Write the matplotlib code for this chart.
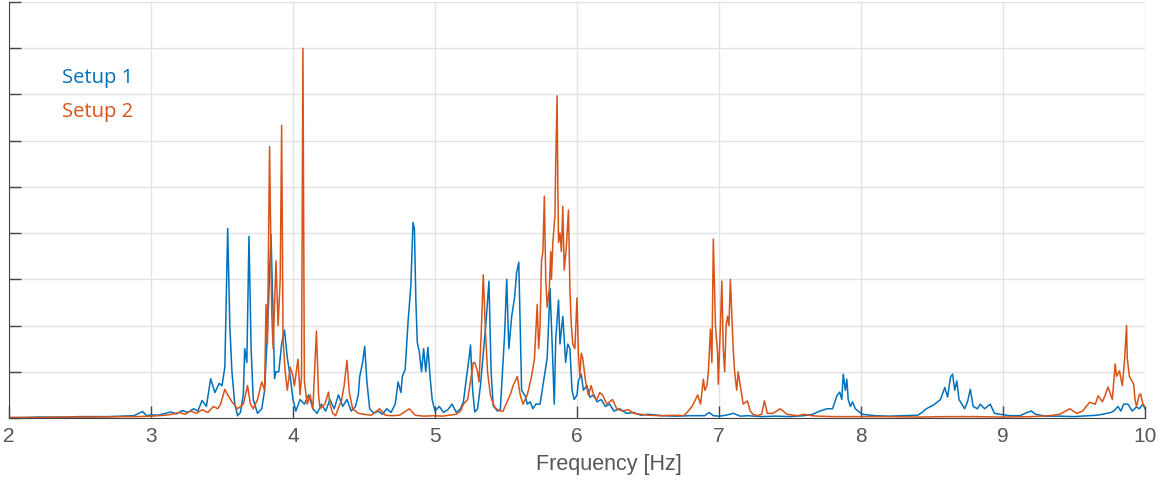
import matplotlib
matplotlib.use("Agg")
import matplotlib.pyplot as plt

# Setup 1 spectrum, amplitude in grid units
setup1_freq = [
    2.00, 2.10, 2.20, 2.30, 2.40, 2.50, 2.60, 2.70, 2.80, 2.88, 2.94, 2.97,
    3.00, 3.05, 3.10, 3.14, 3.18, 3.22, 3.26, 3.30, 3.33, 3.36, 3.39, 3.42,
    3.45, 3.48, 3.50, 3.52, 3.54, 3.555, 3.57, 3.59, 3.61, 3.63, 3.65, 3.66,
    3.675, 3.69, 3.705, 3.72, 3.75, 3.78, 3.80, 3.82, 3.845, 3.86, 3.87, 3.88,
    3.90, 3.92, 3.94, 3.96, 3.98, 4.00, 4.02, 4.05, 4.08, 4.11, 4.14, 4.17,
    4.20, 4.23, 4.26, 4.29, 4.32, 4.35, 4.38, 4.41, 4.44, 4.46, 4.47, 4.49,
    4.505, 4.52, 4.54, 4.57, 4.60, 4.63, 4.66, 4.69, 4.72, 4.74, 4.76, 4.77,
    4.79, 4.81, 4.83, 4.845, 4.855, 4.865, 4.875, 4.89, 4.905, 4.92, 4.935, 4.95,
    4.965, 4.98, 5.00, 5.03, 5.06, 5.09, 5.12, 5.15, 5.18, 5.20, 5.22, 5.24,
    5.25, 5.265, 5.28, 5.30, 5.32, 5.34, 5.36, 5.38, 5.395, 5.41, 5.44, 5.46,
    5.48, 5.49, 5.505, 5.52, 5.54, 5.56, 5.575, 5.59, 5.60, 5.61, 5.635, 5.65,
    5.67, 5.69, 5.71, 5.74, 5.77, 5.79, 5.81, 5.825, 5.84, 5.85, 5.87, 5.88,
    5.90, 5.92, 5.935, 5.95, 5.965, 5.98, 6.00, 6.01, 6.03, 6.045, 6.07, 6.09,
    6.12, 6.14, 6.17, 6.20, 6.23, 6.26, 6.30, 6.35, 6.40, 6.45, 6.50, 6.60,
    6.70, 6.80, 6.90, 6.93, 6.96, 7.00, 7.05, 7.10, 7.15, 7.20, 7.30, 7.40,
    7.50, 7.60, 7.66, 7.71, 7.76, 7.80, 7.83, 7.85, 7.865, 7.875, 7.89, 7.90,
    7.91, 7.925, 7.94, 7.96, 7.98, 8.01, 8.10, 8.20, 8.30, 8.40, 8.43, 8.46,
    8.51, 8.56, 8.59, 8.61, 8.63, 8.645, 8.66, 8.675, 8.69, 8.71, 8.73, 8.75,
    8.77, 8.79, 8.82, 8.84, 8.87, 8.91, 8.94, 8.98, 9.05, 9.12, 9.17, 9.20,
    9.23, 9.30, 9.40, 9.50, 9.60, 9.66, 9.70, 9.73, 9.76, 9.78, 9.81, 9.83,
    9.85, 9.88, 9.91, 9.94, 9.96, 9.985, 10.00,
]
setup1_amp = [
    0.01, 0.01, 0.02, 0.02, 0.02, 0.03, 0.03, 0.03, 0.04, 0.05, 0.14, 0.05,
    0.07, 0.06, 0.10, 0.13, 0.09, 0.16, 0.12, 0.20, 0.15, 0.38, 0.25, 0.85,
    0.55, 0.75, 0.70, 1.10, 4.10, 2.00, 1.00, 0.30, 0.05, 0.12, 0.50, 1.50,
    1.20, 3.93, 1.50, 0.40, 0.10, 0.20, 0.60, 1.85, 3.97, 2.20, 0.85, 1.00,
    1.00, 1.60, 1.90, 1.30, 0.90, 0.40, 0.15, 0.40, 0.30, 0.50, 0.20, 0.10,
    0.30, 0.15, 0.40, 0.20, 0.50, 0.25, 0.40, 0.15, 0.25, 0.50, 0.90, 1.20,
    1.55, 0.80, 0.20, 0.10, 0.15, 0.08, 0.20, 0.12, 0.30, 0.78, 0.55, 0.90,
    1.05, 2.07, 2.86, 4.23, 4.10, 2.57, 1.64, 1.42, 1.00, 1.50, 1.00, 1.53,
    0.90, 0.40, 0.15, 0.25, 0.12, 0.18, 0.30, 0.12, 0.20, 0.35, 0.84, 1.30,
    1.58, 0.60, 0.13, 0.20, 0.70, 1.40, 2.10, 2.96, 1.00, 0.27, 0.15, 0.18,
    1.27, 1.80, 3.00, 1.50, 2.20, 2.60, 3.15, 3.37, 2.00, 0.60, 0.48, 0.30,
    0.35, 0.20, 0.30, 0.30, 0.90, 1.30, 2.80, 1.60, 0.30, 1.70, 2.55, 1.60,
    2.20, 1.20, 1.60, 1.50, 0.60, 0.40, 0.50, 0.80, 0.95, 0.60, 0.70, 0.45,
    0.50, 0.35, 0.40, 0.25, 0.30, 0.15, 0.20, 0.10, 0.12, 0.06, 0.08, 0.05,
    0.04, 0.05, 0.05, 0.12, 0.05, 0.04, 0.06, 0.10, 0.04, 0.05, 0.03, 0.04,
    0.03, 0.05, 0.08, 0.15, 0.20, 0.20, 0.48, 0.56, 0.40, 0.95, 0.60, 0.84,
    0.40, 0.25, 0.35, 0.20, 0.15, 0.08, 0.05, 0.04, 0.05, 0.06, 0.12, 0.20,
    0.28, 0.40, 0.66, 0.45, 0.88, 0.95, 0.60, 0.80, 0.40, 0.30, 0.20, 0.35,
    0.62, 0.25, 0.20, 0.30, 0.20, 0.30, 0.10, 0.08, 0.05, 0.05, 0.12, 0.15,
    0.08, 0.04, 0.04, 0.03, 0.05, 0.06, 0.08, 0.10, 0.12, 0.15, 0.25, 0.15,
    0.30, 0.30, 0.15, 0.24, 0.20, 0.30, 0.20,
]

# Setup 2 spectrum
setup2_freq = [
    2.00, 2.20, 2.40, 2.60, 2.80, 2.90, 3.00, 3.05, 3.10, 3.15, 3.20, 3.24,
    3.28, 3.32, 3.36, 3.40, 3.44, 3.47, 3.49, 3.52, 3.54, 3.57, 3.61, 3.65,
    3.68, 3.70, 3.72, 3.75, 3.78, 3.80, 3.81, 3.82, 3.835, 3.85, 3.86, 3.88,
    3.895, 3.91, 3.92, 3.93, 3.945, 3.96, 3.98, 4.00, 4.01, 4.035, 4.05, 4.06,
    4.07, 4.08, 4.10, 4.12, 4.14, 4.165, 4.18, 4.19, 4.225, 4.25, 4.26, 4.28,
    4.30, 4.33, 4.34, 4.36, 4.38, 4.395, 4.40, 4.42, 4.46, 4.50, 4.55, 4.61,
    4.65, 4.70, 4.75, 4.82, 4.86, 4.92, 5.00, 5.05, 5.10, 5.15, 5.18, 5.20,
    5.23, 5.25, 5.27, 5.28, 5.30, 5.31, 5.325, 5.34, 5.355, 5.37, 5.39, 5.41,
    5.43, 5.46, 5.48, 5.50, 5.53, 5.55, 5.58, 5.60, 5.62, 5.65, 5.68, 5.70,
    5.72, 5.73, 5.74, 5.75, 5.76, 5.77, 5.78, 5.79, 5.805, 5.815, 5.82, 5.83,
    5.845, 5.85, 5.86, 5.865, 5.87, 5.88, 5.89, 5.90, 5.91, 5.925, 5.94, 5.95,
    5.96, 5.97, 5.985, 6.00, 6.01, 6.02, 6.03, 6.04, 6.06, 6.08, 6.10, 6.12,
    6.14, 6.16, 6.18, 6.21, 6.25, 6.28, 6.32, 6.36, 6.40, 6.45, 6.50, 6.60,
    6.70, 6.75, 6.77, 6.81, 6.83, 6.85, 6.87, 6.89, 6.90, 6.915, 6.925, 6.94,
    6.95, 6.96, 6.975, 6.99, 6.995, 7.01, 7.02, 7.03, 7.04, 7.05, 7.06, 7.07,
    7.08, 7.10, 7.11, 7.125, 7.135, 7.15, 7.17, 7.20, 7.22, 7.24, 7.27, 7.30,
    7.32, 7.34, 7.38, 7.43, 7.48, 7.55, 7.60, 7.65, 7.70, 7.80, 7.90, 8.00,
    8.20, 8.40, 8.60, 8.80, 9.00, 9.20, 9.33, 9.40, 9.47, 9.52, 9.56, 9.61,
    9.65, 9.67, 9.70, 9.72, 9.74, 9.77, 9.79, 9.80, 9.82, 9.84, 9.855, 9.87,
    9.875, 9.89, 9.92, 9.93, 9.94, 9.96, 9.97, 9.985, 10.00,
]
setup2_amp = [
    0.01, 0.01, 0.02, 0.02, 0.03, 0.03, 0.04, 0.05, 0.06, 0.08, 0.12, 0.08,
    0.15, 0.10, 0.18, 0.12, 0.25, 0.20, 0.30, 0.62, 0.50, 0.35, 0.20, 0.30,
    0.70, 0.30, 0.20, 0.40, 0.78, 0.60, 2.46, 1.60, 5.87, 2.30, 1.50, 3.40,
    2.00, 3.00, 6.33, 1.70, 1.00, 0.60, 1.10, 0.90, 0.70, 1.27, 0.50, 0.90,
    8.00, 0.80, 0.30, 0.50, 0.20, 1.88, 0.50, 0.20, 0.30, 0.56, 0.30, 0.10,
    0.05, 0.30, 0.35, 0.70, 1.25, 0.60, 0.50, 0.20, 0.10, 0.08, 0.06, 0.20,
    0.06, 0.05, 0.06, 0.20, 0.06, 0.04, 0.05, 0.04, 0.06, 0.08, 0.15, 0.30,
    0.40, 0.80, 1.20, 1.20, 1.00, 0.78, 1.80, 3.10, 1.90, 1.00, 0.50, 0.30,
    0.20, 0.15, 0.15, 0.30, 0.50, 0.70, 0.90, 0.50, 0.30, 0.50, 0.90, 1.27,
    2.46, 1.50, 2.00, 3.40, 3.60, 4.80, 3.00, 2.40, 2.80, 3.60, 3.00, 3.80,
    4.40, 5.50, 6.97, 5.00, 3.80, 4.00, 3.60, 4.58, 3.20, 3.70, 4.50, 2.80,
    2.00, 1.60, 1.50, 2.60, 1.40, 0.90, 1.40, 1.30, 0.80, 0.50, 0.70, 0.45,
    0.40, 0.55, 0.50, 0.30, 0.40, 0.20, 0.15, 0.18, 0.10, 0.08, 0.06, 0.05,
    0.06, 0.05, 0.10, 0.25, 0.37, 0.50, 0.30, 0.84, 0.60, 0.70, 1.00, 1.92,
    1.20, 3.87, 2.00, 1.40, 0.73, 2.00, 2.96, 1.50, 1.00, 2.00, 2.20, 2.00,
    3.00, 1.50, 1.00, 0.60, 1.00, 0.70, 0.30, 0.37, 0.15, 0.08, 0.05, 0.08,
    0.37, 0.10, 0.10, 0.20, 0.08, 0.05, 0.08, 0.05, 0.04, 0.03, 0.03, 0.03,
    0.03, 0.02, 0.03, 0.03, 0.02, 0.03, 0.05, 0.08, 0.20, 0.10, 0.15, 0.34,
    0.30, 0.48, 0.35, 0.50, 0.67, 0.40, 1.17, 0.90, 1.02, 0.70, 1.20, 2.00,
    1.30, 0.90, 0.73, 0.40, 0.25, 0.50, 0.52, 0.30, 0.25,
]

labels = ["Setup 1", "Setup 2"]
colors = ["#0072BD", "#D95319"]
x_ticks = [2, 3, 4, 5, 6, 7, 8, 9, 10]
y_ticks = [0, 1, 2, 3, 4, 5, 6, 7, 8, 9]

fig = plt.figure(figsize=(11.6, 4.81), dpi=100)
ax = fig.add_axes([9 / 1160, 62 / 481, 1136 / 1160, 416 / 481])

ax.plot(setup1_freq, setup1_amp, color=colors[0], lw=1.1)
ax.plot(setup2_freq, setup2_amp, color=colors[1], lw=1.1)

ax.set_xlim(2, 10)
ax.set_ylim(0, 9)
ax.set_xticks(x_ticks)
ax.set_yticks(y_ticks)
ax.set_yticklabels([])
ax.grid(True, color="#e3e3e3", lw=1.0)
ax.set_axisbelow(True)
for side in ["top", "right"]:
    ax.spines[side].set_visible(False)
for side in ["left", "bottom"]:
    ax.spines[side].set_color("#444444")
ax.tick_params(direction="in", length=8.5, width=1.0, color="#444444")
ax.tick_params(axis="x", labelsize=15, labelcolor="#555555", pad=6)
for lbl in ax.get_xticklabels():
    lbl.set_family("Liberation Sans")

ax.set_xlabel("Frequency [Hz]", fontsize=15.5, color="#555555",
              family="Liberation Sans")
ax.xaxis.set_label_coords(0.528, -0.085)

ax.text(0.0467, 0.82, labels[0], color=colors[0], fontsize=14.5,
        family="Open Sans", va="center", ha="left", transform=ax.transAxes)
ax.text(0.0467, 0.739, labels[1], color=colors[1], fontsize=14.5,
        family="Open Sans", va="center", ha="left", transform=ax.transAxes)

fig.savefig("out.png", dpi=100)
